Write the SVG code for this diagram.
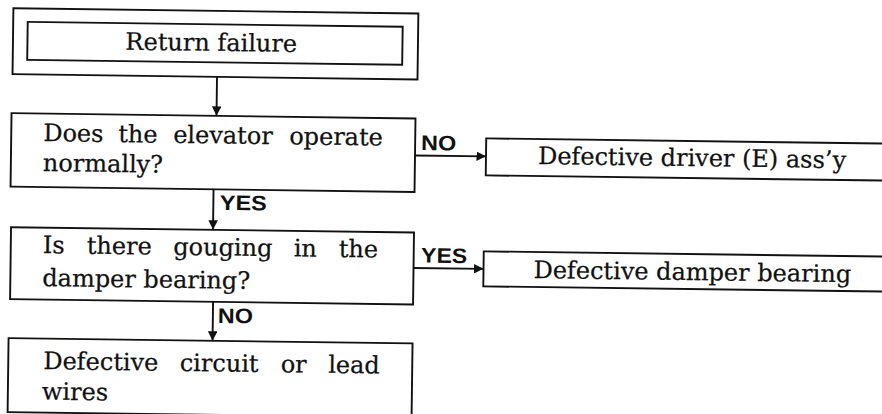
<svg xmlns="http://www.w3.org/2000/svg" width="882" height="414" viewBox="0 0 882 414">
<defs>
<style>
.box{fill:none;stroke:#111;stroke-width:1.9}
.t{font-family:"DejaVu Serif","Liberation Serif",serif;font-size:24px;fill:#111;stroke:#111;stroke-width:0.25}
.lbl{font-family:"Liberation Sans",Arial,sans-serif;font-weight:bold;font-size:21px;fill:#111}
.conn{fill:none;stroke:#111;stroke-width:1.9}
</style>
<marker id="arr" viewBox="0 0 10 10" refX="10" refY="5" markerWidth="5" markerHeight="5" orient="auto" markerUnits="strokeWidth">
<path d="M0,0 L10,5 L0,10 z" fill="#111"/>
</marker>
</defs>
<rect width="882" height="414" fill="#fff"/>
<g transform="rotate(0.75)">
<g id="start">
<rect class="box" x="13.5" y="8" width="405" height="66"/>
<rect class="box" x="28" y="21.5" width="375" height="38"/>
<text class="t" x="126" y="48">Return failure</text>
</g>
<g id="q1">
<rect class="box" x="13" y="113" width="404" height="73.5"/>
<text class="t" y="140.5"><tspan x="45">Does</tspan><tspan x="120">the</tspan><tspan x="175">elevator</tspan><tspan x="291">operate</tspan></text>
<text class="t" x="45" y="170.5">normally?</text>
</g>
<g id="r1">
<rect class="box" x="488" y="132" width="420" height="37"/>
<text class="t" x="540" y="157">Defective driver (E) ass’y</text>
</g>
<g id="q2">
<rect class="box" x="14" y="227" width="403" height="72"/>
<text class="t" y="252.5"><tspan x="46">Is</tspan><tspan x="90">there</tspan><tspan x="176.5">gouging</tspan><tspan x="297">in</tspan><tspan x="342">the</tspan></text>
<text class="t" x="46" y="285.5">damper bearing?</text>
</g>
<g id="r2">
<rect class="box" x="487" y="245" width="420" height="35"/>
<text class="t" x="537" y="271">Defective damper bearing</text>
</g>
<g id="r3">
<rect class="box" x="13" y="338" width="404" height="74"/>
<text class="t" y="368.5"><tspan x="48">Defective</tspan><tspan x="184.5">circuit</tspan><tspan x="285.5">or</tspan><tspan x="333">lead</tspan></text>
<text class="t" x="47" y="399">wires</text>
</g>
<g id="connectors">
<line class="conn" x1="218" y1="74" x2="218" y2="113" marker-end="url(#arr)"/>
<line class="conn" x1="417" y1="150" x2="488" y2="150" marker-end="url(#arr)"/>
<line class="conn" x1="216" y1="186.5" x2="216" y2="227" marker-end="url(#arr)"/>
<line class="conn" x1="417" y1="262.5" x2="487" y2="262.5" marker-end="url(#arr)"/>
<line class="conn" x1="217" y1="299" x2="217" y2="338" marker-end="url(#arr)"/>
<text class="lbl" x="423" y="144.5" textLength="35" lengthAdjust="spacingAndGlyphs">NO</text>
<text class="lbl" x="222.5" y="207" textLength="47" lengthAdjust="spacingAndGlyphs">YES</text>
<text class="lbl" x="424.5" y="257" textLength="46" lengthAdjust="spacingAndGlyphs">YES</text>
<text class="lbl" x="222" y="320" textLength="35" lengthAdjust="spacingAndGlyphs">NO</text>
</g>
</g>
</svg>
